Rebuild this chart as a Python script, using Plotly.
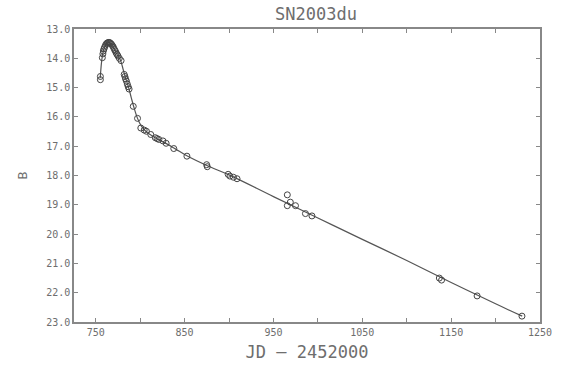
import plotly.graph_objects as go

# observed B magnitudes (JD - 2452000)
obs_jd = [755.2, 755.2, 757.4, 758.0, 758.5, 759.2, 760.0, 761.0, 762.0, 763.0,
          764.0, 765.0, 766.0, 767.0, 768.0, 769.0, 770.0, 771.0, 772.0, 773.0,
          774.0, 775.0, 776.5, 778.5, 782.0, 782.8, 783.5, 784.5, 785.5, 786.5,
          787.5, 792.2, 797.0, 800.7, 804.5, 807.0, 811.9, 817.0, 819.0, 821.0,
          825.6, 829.2, 837.8, 852.6, 874.8, 875.5, 899.0, 901.0, 905.0, 909.0,
          965.6, 969.0, 965.6, 974.8, 986.0, 993.3, 1136.7, 1139.2, 1179.2, 1229.7]
obs_b = [14.62, 14.73, 13.98, 13.85, 13.75, 13.68, 13.62, 13.55, 13.50, 13.48,
         13.46, 13.46, 13.47, 13.50, 13.53, 13.58, 13.63, 13.70, 13.75, 13.82,
         13.87, 13.92, 14.00, 14.08, 14.55, 14.62, 14.70, 14.78, 14.88, 14.97,
         15.05, 15.64, 16.05, 16.38, 16.45, 16.49, 16.60, 16.71, 16.74, 16.77,
         16.82, 16.90, 17.08, 17.34, 17.63, 17.70, 17.96, 18.02, 18.06, 18.11,
         18.66, 18.91, 19.03, 19.03, 19.30, 19.38, 21.50, 21.57, 22.11, 22.80]

# light-curve fit
fit_jd = [755, 757, 759, 761, 763, 765, 767, 769, 771, 773, 775, 778, 781, 784,
          787, 790, 793, 797, 801, 806, 812, 820, 830, 840, 852, 875, 900, 950,
          1000, 1050, 1100, 1150, 1200, 1230]
fit_b = [14.68, 14.00, 13.70, 13.55, 13.48, 13.46, 13.50, 13.58, 13.70, 13.82,
         13.92, 14.08, 14.40, 14.72, 15.00, 15.35, 15.68, 16.05, 16.30, 16.48,
         16.62, 16.76, 16.92, 17.10, 17.32, 17.66, 17.98, 18.72, 19.45, 20.18,
         20.90, 21.65, 22.38, 22.80]

x_ticks = [750, 800, 850, 900, 950, 1000, 1050, 1100, 1150, 1200, 1250]
x_labels = ["750", "", "850", "", "950", "", "1050", "", "1150", "", "1250"]
y_ticks = [13, 14, 15, 16, 17, 18, 19, 20, 21, 22, 23]
y_labels = ["13.0", "14.0", "15.0", "16.0", "17.0", "18.0", "19.0", "20.0",
            "21.0", "22.0", "23.0"]

grey = "#6e6e6e"
font = "DejaVu Sans Mono"

fig = go.Figure()
fig.add_trace(go.Scatter(x=fit_jd, y=fit_b, mode="lines",
                         line=dict(color="#555555", width=1.2, shape="spline"),
                         hoverinfo="skip"))
fig.add_trace(go.Scatter(x=obs_jd, y=obs_b, mode="markers",
                         marker=dict(symbol="circle-open", size=6,
                                     color="#444444", line=dict(width=1))))

axis_common = dict(showgrid=False, zeroline=False, showline=True, mirror="ticks",
                   linecolor="#888888", linewidth=1.5, ticks="inside", ticklen=4,
                   tickcolor="#888888",
                   tickfont=dict(family=font, size=10, color=grey))

fig.update_xaxes(range=[725.5, 1250], tickvals=x_ticks, ticktext=x_labels,
                 title=dict(text="JD \u2013 2452000", standoff=9,
                            font=dict(family=font, size=17, color=grey)),
                 **axis_common)
fig.update_yaxes(range=[23, 13], tickvals=y_ticks, ticktext=y_labels,
                 title=dict(text="B", standoff=16,
                            font=dict(family=font, size=13, color=grey)),
                 **axis_common)

fig.update_layout(
    width=564, height=371,
    margin=dict(l=74, r=18, t=29, b=39),
    paper_bgcolor="white", plot_bgcolor="white",
    showlegend=False,
    title=dict(text="SN2003du", x=316 / 564, xref="container", xanchor="center",
               y=1 - 14 / 371, yref="container", yanchor="middle",
               font=dict(family=font, size=17, color=grey)),
)

# drop the default page margin so the figure sits at the window's origin
fig.write_html("out.html", config={"displayModeBar": False},
               post_script="document.body.style.margin='0';")
